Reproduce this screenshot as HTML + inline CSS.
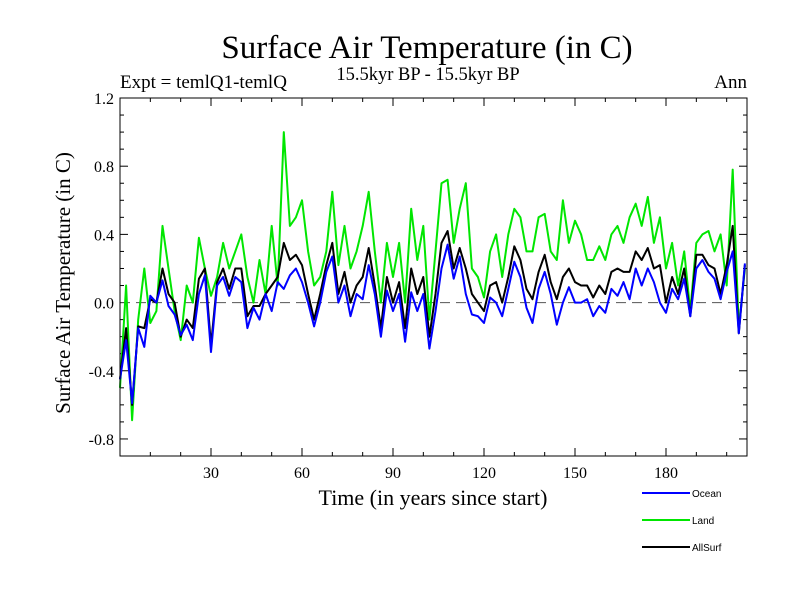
<!DOCTYPE html>
<html><head><meta charset="utf-8"><style>
body{margin:0;background:#fff;width:800px;height:600px;overflow:hidden}
svg text{font-family:"Liberation Serif",serif}
</style></head><body>
<svg id="c" width="800" height="600">
<text x="427" y="58" font-size="33" text-anchor="middle">Surface Air Temperature (in C)</text>
<text x="428" y="80" font-size="18.5" text-anchor="middle">15.5kyr BP - 15.5kyr BP</text>
<text x="120" y="88" font-size="19">Expt = temlQ1-temlQ</text>
<text x="747" y="88" font-size="19" text-anchor="end">Ann</text>
<text transform="translate(70,283) rotate(-90)" font-size="21" text-anchor="middle">Surface Air Temperature (in C)</text>
<text x="433" y="505" font-size="22" text-anchor="middle">Time (in years since start)</text>
<g id="axes"></g><g id="series"></g>
<rect x="120" y="98" width="627" height="358" fill="none" stroke="#000" stroke-width="1"/>
</svg>
<script>
const years=[0,2,4,6,8,10,12,14,16,18,20,22,24,26,28,30,32,34,36,38,40,42,44,46,48,50,52,54,56,58,60,62,64,66,68,70,72,74,76,78,80,82,84,86,88,90,92,94,96,98,100,102,104,106,108,110,112,114,116,118,120,122,124,126,128,130,132,134,136,138,140,142,144,146,148,150,152,154,156,158,160,162,164,166,168,170,172,174,176,178,180,182,184,186,188,190,192,194,196,198,200,202,204,206];
const ocean=[-0.45,-0.22,-0.59,-0.15,-0.26,0.04,0.0,0.13,-0.02,-0.07,-0.19,-0.13,-0.22,0.05,0.16,-0.29,0.1,0.15,0.04,0.15,0.12,-0.15,-0.03,-0.1,0.05,-0.05,0.12,0.08,0.16,0.2,0.12,0.0,-0.14,0.0,0.18,0.27,0.0,0.1,-0.08,0.05,0.02,0.22,0.05,-0.2,0.07,-0.05,0.05,-0.23,0.06,-0.05,0.05,-0.27,-0.05,0.2,0.34,0.14,0.27,0.05,-0.07,-0.08,-0.12,0.03,0.0,-0.08,0.08,0.24,0.15,-0.03,-0.12,0.08,0.18,0.05,-0.13,0.0,0.09,0.0,0.0,0.02,-0.08,-0.02,-0.06,0.08,0.04,0.12,0.02,0.2,0.1,0.2,0.12,0.0,-0.06,0.08,0.02,0.14,-0.08,0.2,0.25,0.18,0.14,0.02,0.18,0.3,-0.18,0.23];
const land=[-0.5,0.1,-0.69,-0.1,0.2,-0.12,-0.05,0.45,0.2,-0.05,-0.22,0.1,0.0,0.38,0.2,0.04,0.15,0.35,0.2,0.3,0.4,0.15,0.0,0.25,0.05,0.45,0.1,1.0,0.45,0.5,0.6,0.3,0.1,0.15,0.3,0.65,0.22,0.45,0.2,0.3,0.45,0.65,0.3,0.0,0.35,0.15,0.35,0.0,0.55,0.25,0.45,-0.1,0.3,0.7,0.72,0.35,0.55,0.7,0.2,0.15,0.03,0.3,0.4,0.15,0.4,0.55,0.5,0.3,0.3,0.5,0.52,0.3,0.25,0.6,0.35,0.48,0.4,0.25,0.25,0.33,0.25,0.4,0.45,0.35,0.5,0.58,0.45,0.62,0.35,0.5,0.2,0.35,0.1,0.3,-0.05,0.35,0.4,0.42,0.3,0.4,0.1,0.78,-0.15,0.2];
const allsurf=[-0.45,-0.15,-0.6,-0.14,-0.15,0.02,0.0,0.2,0.05,0.0,-0.2,-0.1,-0.15,0.14,0.2,-0.25,0.12,0.2,0.08,0.2,0.2,-0.08,-0.02,-0.02,0.05,0.1,0.15,0.35,0.25,0.28,0.22,0.05,-0.1,0.05,0.22,0.35,0.05,0.18,0.0,0.1,0.15,0.32,0.1,-0.15,0.15,0.0,0.12,-0.15,0.2,0.05,0.15,-0.2,0.05,0.35,0.42,0.2,0.32,0.2,0.05,0.0,-0.05,0.1,0.12,0.0,0.15,0.33,0.25,0.08,0.02,0.18,0.28,0.12,0.02,0.15,0.2,0.12,0.1,0.1,0.03,0.1,0.05,0.18,0.2,0.18,0.18,0.3,0.25,0.32,0.2,0.22,0.0,0.15,0.05,0.2,-0.08,0.28,0.28,0.22,0.2,0.05,0.22,0.45,-0.18,0.22];
const yTicks=[1.2,0.8,0.4,0.0,-0.4,-0.8];
const yTickLabels=["1.2","0.8","0.4","0.0","-0.4","-0.8"];
const xTicks=[30,60,90,120,150,180];
const NS='http://www.w3.org/2000/svg';
const X0=120,X1=747,Y0=98,Y1=456,XMIN=0,XMAX=206.7,YMIN=-0.9,YMAX=1.2;
const sx=v=>X0+(v-XMIN)/(XMAX-XMIN)*(X1-X0);
const sy=v=>Y1-(v-YMIN)/(YMAX-YMIN)*(Y1-Y0);
const axes=document.getElementById('axes'),ser=document.getElementById('series');
function mk(t,a,p){const e=document.createElementNS(NS,t);for(const k in a)e.setAttribute(k,a[k]);p.appendChild(e);return e;}
for(let v=-0.9;v<=1.2001;v+=0.1){const y=sy(v);const isMaj=yTicks.some(t=>Math.abs(t-v)<1e-6);const L=isMaj?8:4;
const t1=mk('line',{x1:X0,x2:X0+L,y1:y,y2:y,stroke:'#000'},axes);


const t2=mk('line',{x1:X1,x2:X1-L,y1:y,y2:y,stroke:'#000'},axes);

}
yTicks.forEach((v,i)=>{const t=mk('text',{x:X0-6,y:sy(v)+6,'font-size':16,'text-anchor':'end'},axes);t.textContent=yTickLabels[i];

});
for(let v=10;v<=200;v+=10){const x=sx(v);const isMaj=xTicks.includes(v);const L=isMaj?8:4;
const t1=mk('line',{x1:x,x2:x,y1:Y1,y2:Y1-L,stroke:'#000'},axes);


const t2=mk('line',{x1:x,x2:x,y1:Y0,y2:Y0+L,stroke:'#000'},axes);

}
xTicks.forEach(v=>{const t=mk('text',{x:sx(v),y:Y1+22,'font-size':16,'text-anchor':'middle'},axes);t.textContent=String(v);

});
const zl=mk('line',{x1:X0,x2:X1,y1:sy(0),y2:sy(0),stroke:'#555','stroke-dasharray':'10,6'},axes);


function line(vals,col,name){const pts=vals.map((v,i)=>sx(years[i]).toFixed(1)+','+sy(v).toFixed(1)).join(' ');
const p=mk('polyline',{points:pts,fill:'none',stroke:col,'stroke-width':2,'stroke-linejoin':'round'},ser);

}
line(land,'#00e600','land-series');
line(allsurf,'#000','allsurf-series');
line(ocean,'#0000ff','ocean-series');
const leg=[['Ocean','#0000ff',493],['Land','#00e600',520],['AllSurf','#000',547]];
leg.forEach(([n,c,y])=>{const g=mk('g',{},ser);


mk('line',{x1:642,x2:690,y1:y,y2:y,stroke:c,'stroke-width':2},g);
const t=mk('text',{x:692,y:y+4,'font-size':10,style:'font-family:"Liberation Sans",sans-serif'},g);t.textContent=n;});
</script>
</body></html>
